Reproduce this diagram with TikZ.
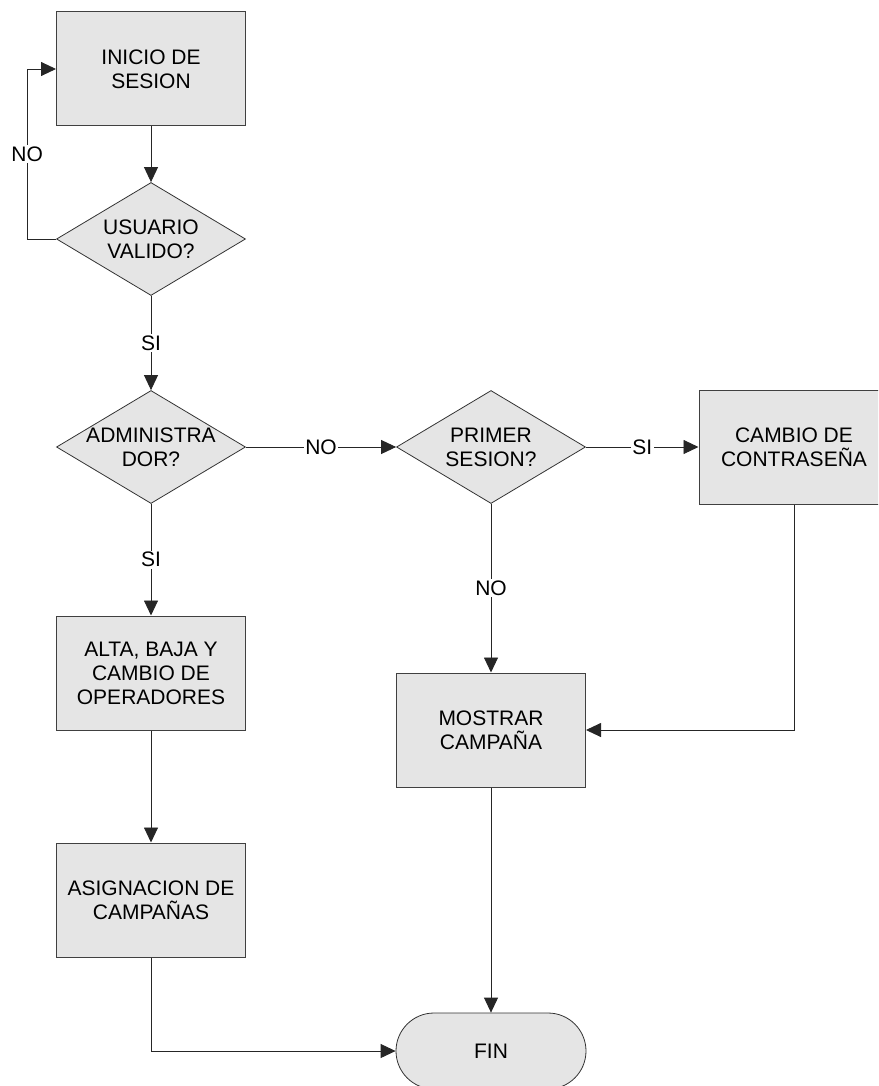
\documentclass[tikz,border=0pt]{standalone}
\usepackage{fontspec}
\setmainfont{Liberation Sans}
\usetikzlibrary{shapes.geometric,shapes.misc,arrows.meta}

\begin{document}
\begin{tikzpicture}[x=1pt,y=-1pt,
  font=\fontsize{21}{24}\selectfont,
  caja/.style={rectangle,draw=black!75,fill=black!10,line width=1pt,
    minimum width=189pt,minimum height=114pt,align=center,inner sep=0pt},
  decision/.style={diamond,draw=black!80,fill=black!10,line width=0.8pt,
    minimum width=189pt,minimum height=113pt,inner sep=0pt},
  terminal/.style={rounded rectangle,draw=black!80,fill=black!10,line width=0.8pt,
    minimum width=190pt,minimum height=76pt,inner sep=0pt},
  flecha/.style={-{Triangle[length=15pt,width=14pt]},line width=0.9pt,black!85},
  etiq/.style={fill=white,inner sep=1.5pt,text=black}]
\useasboundingbox (0,0) rectangle (878,1086);
\clip (0,0) rectangle (878,1086);

% columna izquierda
\node[caja] (inicio) at (151,69) {INICIO DE\\SESION};
\node[decision,label={[align=center]center:USUARIO\\VALIDO?}] (usuario) at (151,239) {};
\node[decision,label={[align=center]center:ADMINISTRA\\DOR?}] (admin) at (151,447) {};
\node[caja] (alta) at (151,673) {ALTA, BAJA Y\\CAMBIO DE\\OPERADORES};
\node[caja] (asig) at (151,900) {ASIGNACION DE\\CAMPA\~NAS};

% columna derecha
\node[decision,label={[align=center]center:PRIMER\\SESION?}] (primer) at (491,447) {};
\node[caja,minimum width=190pt] (cambio) at (794,447) {CAMBIO DE\\CONTRASE\~NA};
\node[caja] (mostrar) at (491,730) {MOSTRAR\\CAMPA\~NA};
\node[terminal] (fin) at (491,1051) {FIN};

% conectores
\draw[flecha] (inicio) -- (usuario);
\draw[flecha] (usuario.west) -- ++(-29,0) |- node[etiq,pos=0.25] {NO} (inicio.west);
\draw[flecha] (usuario) -- node[etiq] {SI} (admin);
\draw[flecha] (admin) -- node[etiq] {SI} (alta);
\draw[flecha] (alta) -- (asig);
\draw[flecha] (asig) |- (fin);
\draw[flecha] (admin) -- node[etiq] {NO} (primer);
\draw[flecha] (primer) -- node[etiq] {SI} (cambio);
\draw[flecha] (primer) -- node[etiq] {NO} (mostrar);
\draw[flecha] (cambio) |- (mostrar);
\draw[flecha] (mostrar) -- (fin);
\end{tikzpicture}
\end{document}
